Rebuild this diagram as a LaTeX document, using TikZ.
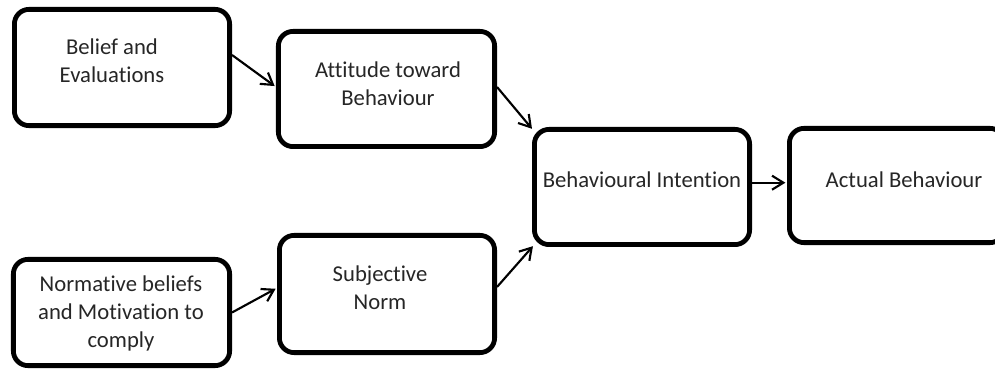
\documentclass[tikz,border=0pt]{standalone}
\usepackage{fontspec}
\setmainfont{Carlito}[RawFeature=-liga]
\usetikzlibrary{arrows.meta,calc}
\begin{document}
\begin{tikzpicture}[x=0.75pt,y=-0.75pt,
  box/.style={draw=black, line width=3.6pt, rounded corners=11pt, inner sep=0pt},
  lbl/.style={font=\fontsize{17pt}{21pt}\selectfont, align=center, inner sep=0pt, text=black!85},
  link/.style={line width=1.6pt, shorten >=1.2pt, -{Straight Barb[length=8.5pt,width=10.5pt]}}]
  % canvas
  \useasboundingbox[fill=white] (0,0) rectangle (995,377);
  \clip (0,0) rectangle (995,377);

  % boxes
  \node[box, minimum width=161.4pt, minimum height=87.2pt] (b1) at (122,67.5) {};
  \node[box, minimum width=162.2pt, minimum height=86.4pt] (b2) at (386.5,89) {};
  \node[box, minimum width=161.4pt, minimum height=86.4pt] (b3) at (642,187) {};
  \node[box, minimum width=161.4pt, minimum height=85.7pt] (b4) at (897,185.5) {};
  \node[box, minimum width=162.2pt, minimum height=79.7pt] (b5) at (121.5,312.5) {};
  \node[box, minimum width=161.4pt, minimum height=87.9pt] (b6) at (387,294) {};

  % labels
  \node[lbl] (t1) at (112,63) {\strut Belief and\\\strut Evaluations};
  \node[lbl] (t2) at (388,85.6) {\strut Attitude toward\\\strut Behaviour};
  \node[lbl] (t3) at (642,182.4) {\strut Behavioural Intention};
  \node[lbl] (t4) at (904,182.4) {\strut Actual Behaviour};
  \node[lbl] (t5) at (121,314.4) {\strut Normative beliefs\\\strut and Motivation to\\\strut comply};
  \node[lbl] (t6) at (380,290.4) {\strut Subjective\\\strut Norm};

  % connectors
  \draw[link] ($(b1.east)+(0,-12.5)$) -- ($(b2.west)+(0,-2)$);
  \draw[link] ($(b2.east)+(0,-2)$) -- ($(b3.north west)+(1,3)$);
  \draw[link] ($(b6.east)+(0,-7)$) -- ($(b3.south west)+(2,-2)$);
  \draw[link] (b5.east) -- ($(b6.west)+(0,-6)$);
  \draw[link] ($(b3.east)+(0,-4.3)$) -- ($(b4.west)+(0,-2.8)$);
\end{tikzpicture}
\end{document}
